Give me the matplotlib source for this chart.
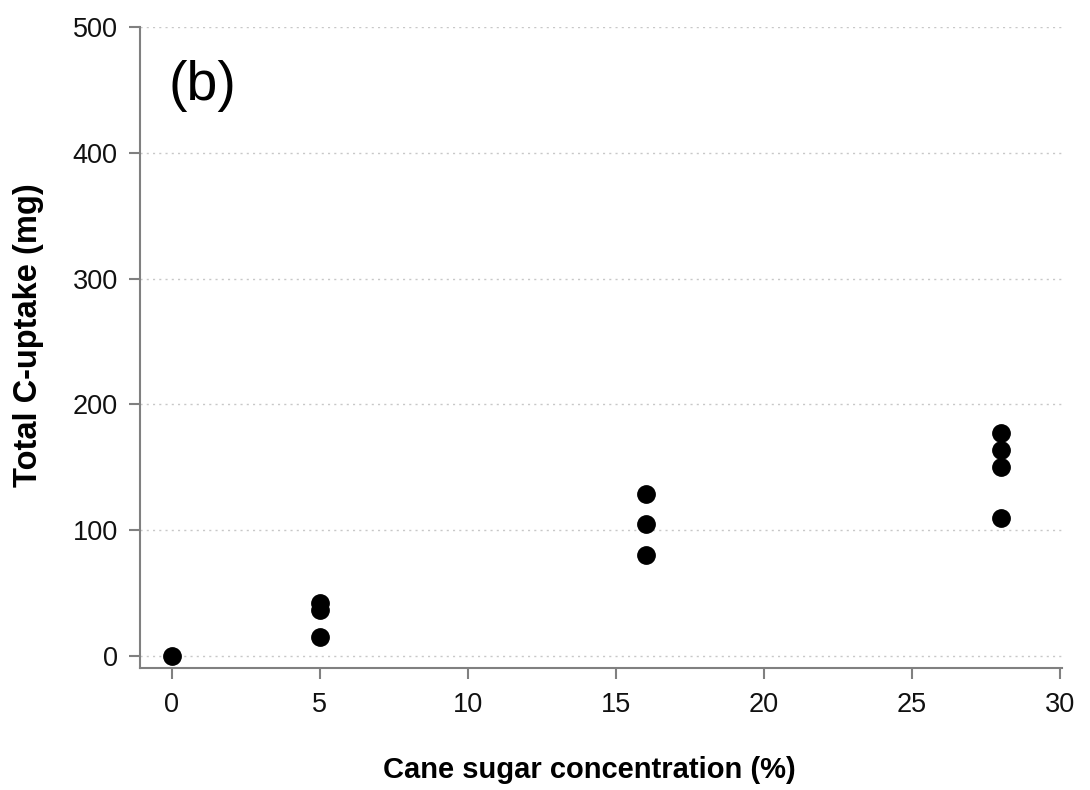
import matplotlib
matplotlib.use("Agg")
import matplotlib.pyplot as plt

# Cane sugar concentration (%) and total C-uptake (mg)
conc = [0, 5, 5, 5, 16, 16, 16, 28, 28, 28, 28]
uptake = [0, 42, 37, 15, 129, 105, 80, 177, 164, 150, 110]

x_ticks = [0, 5, 10, 15, 20, 25, 30]
y_ticks = [0, 100, 200, 300, 400, 500]

plt.rcParams["font.family"] = ["Liberation Sans", "DejaVu Sans"]

fig = plt.figure(figsize=(10.9, 7.9), dpi=100)
ax = fig.add_axes([0.1284, 0.1544, 0.8459, 0.8114])

ax.plot(conc, uptake, "o", color="black", markersize=12.5, zorder=3)

ax.set_xlim(-1.08, 30.07)
ax.set_ylim(-9.5, 500)
ax.set_xticks(x_ticks)
ax.set_yticks(y_ticks)

for y in y_ticks:
    ax.axhline(y, color="#c8c8c8", linestyle=(0, (1.5, 3)), linewidth=1.0, zorder=1)

for side in ["top", "right"]:
    ax.spines[side].set_visible(False)
for side in ["left", "bottom"]:
    ax.spines[side].set_color("#808080")
    ax.spines[side].set_linewidth(1.5)

ax.tick_params(axis="both", direction="out", length=8, width=1.5, color="#808080",
               labelsize=19.5, labelcolor="#111111")
ax.tick_params(axis="x", pad=9)
ax.tick_params(axis="y", pad=8)

ax.set_xlabel("Cane sugar concentration (%)", fontsize=21, fontweight="bold")
ax.set_ylabel("Total C-uptake (mg)", fontsize=23.5, fontweight="bold")
ax.xaxis.set_label_coords(0.487, -0.138)
ax.yaxis.set_label_coords(-0.104, 0.52)

ax.text(-0.1, 453, "(b)", fontsize=40, ha="left", va="center")

fig.savefig("out.png", dpi=100)
